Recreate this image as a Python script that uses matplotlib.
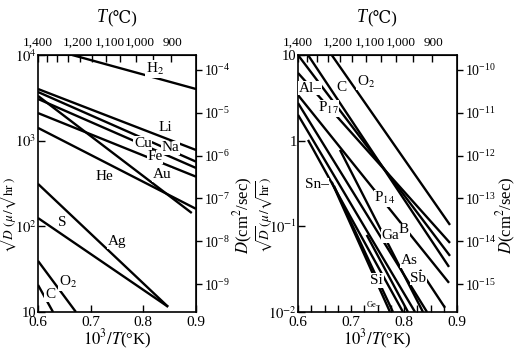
import numpy as np
import matplotlib
matplotlib.use("Agg")
import matplotlib.pyplot as plt
from matplotlib.ticker import FixedLocator, NullLocator

plt.rcParams['font.family'] = ['Liberation Serif', 'DejaVu Serif', 'Noto Sans CJK JP']
plt.rcParams['mathtext.fontset'] = 'stix'

# x = 10^3/T(K), values = sqrt(D) in micron/sqrt(hr), read at both ends of each line
# left panel (gases and metals)
left_x0 = [0.665, 0.6, 0.6, 0.6, 0.6, 0.6, 0.6, 0.6, 0.6, 0.6, 0.6]
left_v0 = [10000, 4010, 3700, 3070, 3330, 2100, 1410, 313, 125, 39.5, 20.7]
left_x1 = [0.9, 0.9, 0.9, 0.9, 0.892, 0.9, 0.9, 0.847, 0.847, 0.672, 0.6285]
left_v1 = [4010, 778, 569, 480, 143, 380, 160, 11.5, 11.5, 10, 10]

left_labels = ["H$_2$", "Li", "Cu", "Na", "Fe", "He", "Au", "S", "Ag", "O$_2$", "C"]
left_lab_x = [0.822, 0.841, 0.799, 0.851, 0.822, 0.727, 0.835, 0.646, 0.75, 0.657, 0.623]
left_lab_v = [6870, 1430, 933, 822, 646, 385, 398, 112, 66, 22.4, 15.8]

# right panel (impurities)
right_x0 = [0.6636, 0.6189, 0.6, 0.6, 0.6, 0.6, 0.6, 0.6189, 0.6636, 0.6679, 0.6792, 0.7296, 0.8302]
right_v0 = [10, 10, 10, 6.17, 3.41, 2.75, 2.0, 1.02, 0.33, 0.296, 0.78, 0.0794, 0.031]
right_x1 = [0.8868, 0.8849, 0.8868, 0.8868, 0.8849, 0.8434, 0.8208, 0.7981, 0.7736, 0.7792, 0.8358, 0.8075, 0.8774]
right_v1 = [0.1038, 0.0336, 0.0452, 0.064, 0.0219, 0.01, 0.01, 0.01, 0.01, 0.01, 0.01, 0.01, 0.0112]

right_labels = ["Al\u2013", "C", "O$_2$", "P$_{17}$", "Sn\u2013", "P$_{14}$", "B", "Ga", "As", "Sb", "Si"]
right_lab_x = [0.6226, 0.6825, 0.728, 0.657, 0.635, 0.764, 0.8, 0.7736, 0.81, 0.827, 0.7485]
right_lab_v = [4.08, 4.2, 4.89, 2.39, 0.304, 0.213, 0.0912, 0.0776, 0.0398, 0.0248, 0.0233]

top_temps = [1400, 1200, 1100, 1000, 900]
top_temp_labels = ["1,400", "1,200", "1,100", "1,000", "900"]
minor_temps = [1350, 1300, 1250, 1150, 1050, 950]
top_label_shift = [0, -2, 4, 4, 2]   # px nudges of the printed labels

# sqrt(D) [micron/sqrt(hr)] -> D [cm^2/sec]
K = 10 ** -11.65


def to_D(v):
    v = np.clip(np.asarray(v, dtype=float), 1e-30, None)
    return v ** 2 * K


def from_D(d):
    d = np.clip(np.asarray(d, dtype=float), 1e-60, None)
    return np.sqrt(d / K)


W, H = 521, 353


def setup(ax, ylim, yticks, yticklabels, minor_x):
    ax.set_xlim(0.6, 0.9)
    ax.set_yscale('log')
    ax.set_ylim(*ylim)
    ax.yaxis.set_major_locator(FixedLocator(yticks))
    ax.set_yticklabels(yticklabels, fontsize=10.5)
    ax.yaxis.set_minor_locator(NullLocator())
    ax.set_xticks([0.6, 0.7, 0.8, 0.9])
    ax.set_xticklabels(["0.6", "0.7", "0.8", "0.9"], fontsize=11)
    if minor_x:
        ax.set_xticks(np.arange(0.625, 0.9, 0.025), minor=True)
    ax.tick_params(direction='in', length=5, width=1, pad=3)
    ax.tick_params(axis='y', pad=1)
    ax.tick_params(which='minor', direction='in', length=5, width=1)
    for s in ax.spines.values():
        s.set_linewidth(1.2)

    top = ax.secondary_xaxis('top')
    pos = [max(0.6, 1000.0 / (t + 273)) for t in top_temps]
    top.set_xticks(pos)
    top.set_xticklabels([])
    top.set_xticks([1000.0 / (t + 273) for t in minor_temps], minor=True)
    top.tick_params(direction='in', length=5, width=1)
    top.tick_params(which='minor', direction='in', length=5, width=1)
    for p, lab, dx in zip(pos, top_temp_labels, top_label_shift):
        ax.annotate(lab, (p, 1), xycoords=('data', 'axes fraction'), xytext=(dx * 0.72, 9),
                    textcoords='offset points', ha='center', va='center', fontsize=9.5,
                    annotation_clip=False)

    right = ax.secondary_yaxis('right', functions=(to_D, from_D))
    right.yaxis.set_minor_locator(NullLocator())
    right.tick_params(direction='out', length=4, width=1, labelsize=10, pad=2)


def labels(x_left, x_right_label, x_center):
    # axis titles placed in pixel positions of the figure
    fig.text(x_left / W, 1 - 215 / H, r"$\sqrt{D}\,(\mu\,/\sqrt{\mathrm{hr}})$", rotation=90,
             fontsize=9.5, ha='center', va='center')
    fig.text(x_right_label / W, 1 - 215 / H, r"$D$(cm$^2$/sec)", rotation=90,
             fontsize=12, ha='center', va='center')
    fig.text(x_center / W, 1 - 339 / H, r"$10^3/T$(°K)", fontsize=12, ha='center', va='center')
    fig.text((x_center - 10) / W, 1 - 18 / H, "T", fontstyle='italic', fontsize=13,
             ha='right', va='center')
    fig.text((x_center - 10) / W, 1 - 18 / H, "(℃)", fontsize=12, ha='left', va='center')


fig = plt.figure(figsize=(W / 100, H / 100), dpi=100)
ax1 = fig.add_axes([38 / W, 41 / H, 158 / W, 257 / H])
ax2 = fig.add_axes([298 / W, 41 / H, 159 / W, 257 / H])

setup(ax1, (10, 1e4), [10, 100, 1000, 10000], ["10", "$10^2$", "$10^3$", "$10^4$"], False)
setup(ax2, (0.01, 10), [0.01, 0.1, 1, 10], ["$10^{-2}$", "$10^{-1}$", "1", "10"], True)
labels(9, 243, 117)
labels(265, 506, 377)

for i in range(len(left_x0)):
    ax1.plot([left_x0[i], left_x1[i]], [left_v0[i], left_v1[i]], color='black', lw=1.7,
             solid_capstyle='butt', zorder=2)
for i in range(len(left_labels)):
    ax1.text(left_lab_x[i], left_lab_v[i], left_labels[i], fontsize=11, ha='center', va='center',
             zorder=3, bbox=dict(fc='white', ec='none', pad=0.4))

for i in range(len(right_x0)):
    ax2.plot([right_x0[i], right_x1[i]], [right_v0[i], right_v1[i]], color='black', lw=1.7,
             solid_capstyle='butt', zorder=2)
for i in range(len(right_labels)):
    ax2.text(right_lab_x[i], right_lab_v[i], right_labels[i], fontsize=11, ha='center', va='center',
             zorder=3, bbox=dict(fc='white', ec='none', pad=0.4))
ax2.text(0.742, 0.0121, "Ge\u2013", fontsize=6, ha='center', va='center', zorder=3)

fig.savefig("out.png", dpi=100)
